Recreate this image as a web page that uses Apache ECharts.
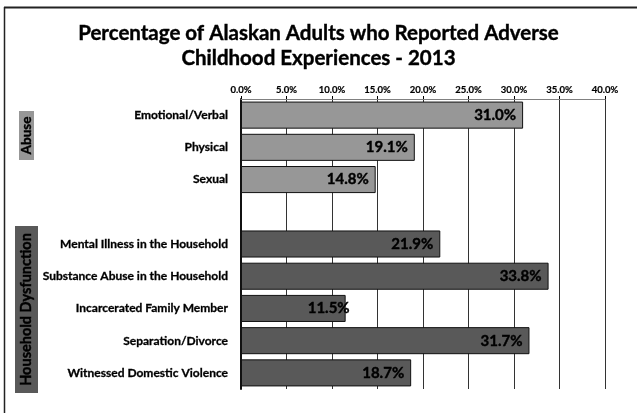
<!DOCTYPE html>
<html>
<head>
<meta charset="utf-8">
<style>
  html, body { margin: 0; padding: 0; background: #fff; }
  #chart { width: 637px; height: 413px; }
</style>
<script src="https://cdn.jsdelivr.net/npm/echarts@6/dist/echarts.min.js"></script>
</head>
<body>
<div id="chart"></div>
<script>
// Adverse childhood experience categories (blank row separates the two groups)
const categories = [
  'Emotional/Verbal',
  'Physical',
  'Sexual',
  '',
  'Mental Illness in the Household',
  'Substance Abuse in the Household',
  'Incarcerated Family Member',
  'Separation/Divorce',
  'Witnessed Domestic Violence'
];
// Group each category belongs to
const groups = ['Abuse', 'Abuse', 'Abuse', '', 'Household Dysfunction', 'Household Dysfunction',
  'Household Dysfunction', 'Household Dysfunction', 'Household Dysfunction'];
// Percent of adults reporting each experience
const percentages = [31.0, 19.1, 14.8, null, 21.9, 33.8, 11.5, 31.7, 18.7];
// Axis ticks (percent)
const tickValues = [0, 5, 10, 15, 20, 25, 30, 35, 40];

const groupColors = { 'Abuse': '#979797', 'Household Dysfunction': '#595959' };
const FONT = 'Lato, "Open Sans", sans-serif';
// slight outline to give the text a heavier weight
const heavy = { textBorderColor: '#000', textBorderWidth: 0.4 };

const seriesData = percentages.map((v, i) => {
  if (v === null) return '-';
  const item = { value: v, itemStyle: { color: groupColors[groups[i]] } };
  // short bar: label is nudged past the bar end
  if (categories[i] === 'Incarcerated Family Member') item.label = { offset: [11, 0] };
  return item;
});

const chart = echarts.init(document.getElementById('chart'));
chart.setOption({
  backgroundColor: '#fff',
  animation: false,
  title: {
    text: 'Percentage of Alaskan Adults who Reported Adverse\nChildhood Experiences - 2013',
    left: 'center',
    top: 16,
    textStyle: Object.assign({ fontFamily: FONT, fontWeight: 'bold', fontSize: 20.5, lineHeight: 25, color: '#000' }, heavy)
  },
  grid: { left: 241, right: 32, top: 99, bottom: 24 },
  xAxis: {
    type: 'value',
    position: 'top',
    min: tickValues[0],
    max: tickValues[tickValues.length - 1],
    interval: tickValues[1] - tickValues[0],
    axisLine: { show: true, lineStyle: { color: '#808080', width: 1 } },
    axisTick: { show: true, length: 3, lineStyle: { color: '#000' } },
    axisLabel: Object.assign({
      formatter: v => v.toFixed(1) + '%',
      fontFamily: FONT, fontWeight: 'bold', fontSize: 9.5, color: '#000', margin: 4
    }, { textBorderColor: '#000', textBorderWidth: 0.2 }),
    splitLine: { show: true, lineStyle: { color: '#333', width: 1 } }
  },
  yAxis: {
    type: 'category',
    data: categories,
    inverse: true,
    axisLine: { show: true, lineStyle: { color: '#111', width: 2 } },
    axisTick: { show: false },
    axisLabel: Object.assign({ fontFamily: FONT, fontWeight: 'bold', fontSize: 12, color: '#000', margin: 13 },
      { textBorderColor: '#000', textBorderWidth: 0.3 })
  },
  series: [{
    type: 'bar',
    data: seriesData,
    barCategoryGap: '16%',
    itemStyle: { borderColor: '#111', borderWidth: 1 },
    label: Object.assign({
      show: true,
      position: 'insideRight',
      distance: 7,
      formatter: p => p.value.toFixed(1) + '%',
      fontFamily: FONT, fontWeight: 'bold', fontSize: 15, color: '#000'
    }, heavy)
  }],
  graphic: [
    // chart frame (top and left edges)
    { type: 'line', shape: { x1: 4, y1: 7.5, x2: 637, y2: 7.5 }, style: { stroke: '#222', lineWidth: 2 } },
    { type: 'line', shape: { x1: 4.5, y1: 7, x2: 4.5, y2: 413 }, style: { stroke: '#222', lineWidth: 1.5 } },
    // group captions
    { type: 'rect', shape: { x: 19, y: 111, width: 15, height: 49 }, style: { fill: groupColors['Abuse'] } },
    { type: 'text', x: 26.5, y: 135.5, rotation: Math.PI / 2,
      style: { text: 'Abuse', fill: '#000', font: 'bold 13.5px ' + FONT, align: 'center', verticalAlign: 'middle',
        stroke: '#000', lineWidth: 0.4 } },
    { type: 'rect', shape: { x: 15, y: 226, width: 23, height: 167 }, style: { fill: groupColors['Household Dysfunction'] } },
    { type: 'text', x: 26.5, y: 309.5, rotation: Math.PI / 2,
      style: { text: 'Household Dysfunction', fill: '#000', font: 'bold 14.5px ' + FONT, align: 'center', verticalAlign: 'middle',
        stroke: '#000', lineWidth: 0.4 } }
  ]
});
</script>
</body>
</html>
